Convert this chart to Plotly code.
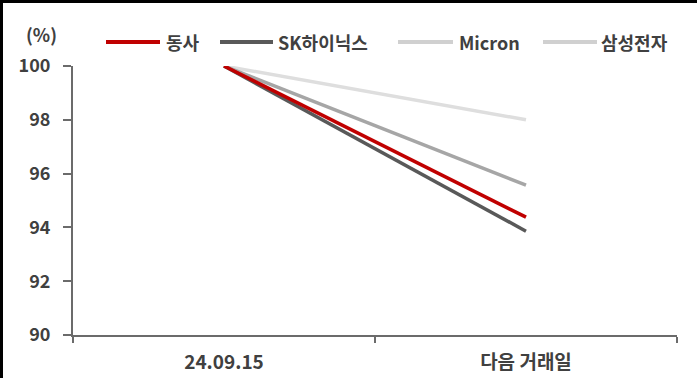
import plotly.graph_objects as go

categories = ["24.09.15", "다음 거래일"]
series_names = ["동사", "SK하이닉스", "Micron", "삼성전자"]
dongsa = [100, 94.38]
sk_hynix = [100, 93.86]
micron = [100, 95.57]
samsung = [100, 98.0]
line_colors = ["#c00000", "#595959", "#a6a6a6", "#dedede"]
legend_colors = ["#c00000", "#595959", "#d0d0d0", "#d0d0d0"]

FONT = "Noto Sans CJK KR"
TXT = "#404040"
FS = 18

W, H = 697, 378
ml, mr, mt, mb = 73, 20, 66, 43
pw, ph = W - ml - mr, H - mt - mb


def px(x):
    return (x - ml) / pw


def py(y):
    return 1 - (y - mt) / ph


fig = go.Figure()
values = [dongsa, sk_hynix, micron, samsung]
for i in [3, 2, 1, 0]:
    fig.add_trace(go.Scatter(x=categories, y=values[i], mode="lines",
                             line=dict(color=line_colors[i], width=3.5),
                             showlegend=False, hoverinfo="skip"))

# manual legend (line sample + label)
leg_line_x = [(106, 160), (220, 273), (398, 453), (543, 597)]
leg_text_x = [164, 276, 457, 599]
leg_y = 42
shapes = []
annotations = []
for i, name in enumerate(series_names):
    x0, x1 = leg_line_x[i]
    shapes.append(dict(type="line", xref="paper", yref="paper",
                       x0=px(x0), x1=px(x1), y0=py(leg_y), y1=py(leg_y),
                       line=dict(color=legend_colors[i], width=4)))
    annotations.append(dict(text=name, xref="paper", yref="paper",
                            x=px(leg_text_x[i]), y=py(leg_y),
                            xanchor="left", yanchor="middle", showarrow=False,
                            font=dict(family=FONT, size=FS, color=TXT, weight="bold")))

annotations.append(dict(text="(%)", xref="paper", yref="paper",
                        x=px(41.5), y=py(34),
                        xanchor="center", yanchor="middle", showarrow=False,
                        font=dict(family=FONT, size=FS, color=TXT, weight="bold")))

# frame (top and left edges only)
shapes.append(dict(type="line", xref="paper", yref="paper",
                   x0=px(0), x1=px(W), y0=py(1.5), y1=py(1.5),
                   line=dict(color="black", width=3)))
shapes.append(dict(type="line", xref="paper", yref="paper",
                   x0=px(1.5), x1=px(1.5), y0=py(H), y1=py(0),
                   line=dict(color="black", width=3)))

fig.update_layout(
    width=W, height=H,
    margin=dict(l=ml, r=mr, t=mt, b=mb, autoexpand=False),
    paper_bgcolor="white", plot_bgcolor="white",
    font=dict(family=FONT, size=FS, color=TXT, weight="bold"),
    showlegend=False,
    xaxis=dict(type="category", range=[-0.5, 1.5], showgrid=False,
               automargin=False,
               showline=True, linecolor="#6b6b6b", linewidth=2,
               ticks="outside", tickson="boundaries", ticklen=6,
               tickcolor="#6b6b6b", tickwidth=2, ticklabelstandoff=9,
               tickfont=dict(family=FONT, size=19, color=TXT, weight="bold")),
    yaxis=dict(range=[90, 100], dtick=2, showgrid=False, zeroline=False,
               automargin=False,
               showline=True, linecolor="#6b6b6b", linewidth=2,
               ticks="outside", ticklen=8, tickcolor="#6b6b6b", tickwidth=2,
               ticklabelstandoff=9,
               tickfont=dict(family=FONT, size=FS, color=TXT, weight="bold")),
    annotations=annotations,
    shapes=shapes,
)

fig.write_html("out.html", config={"displayModeBar": False},
               post_script="document.body.style.margin='0';")
